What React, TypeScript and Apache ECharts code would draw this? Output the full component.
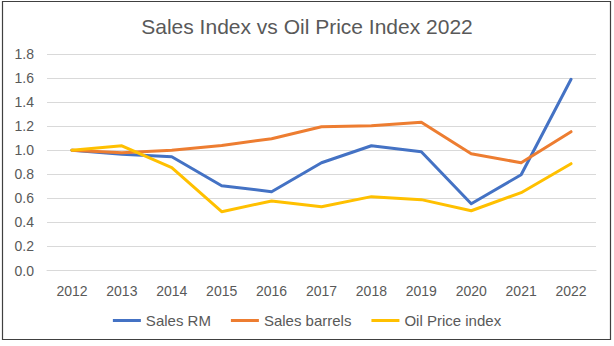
import React, { useEffect, useRef } from "react";
import * as echarts from "echarts";

const years = ["2012", "2013", "2014", "2015", "2016", "2017", "2018", "2019", "2020", "2021", "2022"];
const salesRM = [1.0, 0.966, 0.946, 0.705, 0.655, 0.896, 1.037, 0.988, 0.555, 0.796, 1.59];
const salesBarrels = [1.0, 0.98, 0.999, 1.04, 1.096, 1.195, 1.204, 1.232, 0.971, 0.896, 1.154];
const oilPrice = [1.0, 1.037, 0.855, 0.489, 0.578, 0.53, 0.614, 0.589, 0.497, 0.647, 0.888];

const FONT = "'Liberation Sans', Arial, sans-serif";
const TEXT = "#595959";

export default function App() {
  const ref = useRef<HTMLDivElement>(null);
  useEffect(() => {
    if (!ref.current) return;
    const chart = echarts.init(ref.current, undefined, { renderer: "svg" });
    const mk = (name: string, data: number[], color: string) => ({
      name,
      type: "line",
      data,
      symbol: "none",
      smooth: false,
      color,
      lineStyle: { color, width: 3, cap: "round", join: "round" },
      emphasis: { disabled: true },
    });
    chart.setOption({
      animation: false,
      backgroundColor: "#ffffff",
      textStyle: { fontFamily: FONT },
      title: {
        text: "Sales Index vs Oil Price Index 2022",
        left: "center",
        top: 11,
        textStyle: { fontFamily: FONT, fontSize: 21, fontWeight: "normal", color: TEXT },
      },
      legend: {
        bottom: 13,
        left: "center",
        icon: "rect",
        itemWidth: 28,
        itemHeight: 3,
        itemGap: 20,
        textStyle: { fontFamily: FONT, fontSize: 15, color: TEXT },
        data: ["Sales RM", "Sales barrels", "Oil Price index"],
      },
      grid: { left: 47, right: 18, top: 54, bottom: 75.5, containLabel: false },
      xAxis: {
        type: "category",
        data: years,
        boundaryGap: true,
        axisLine: { show: true, lineStyle: { color: "#D9D9D9", width: 1 } },
        axisTick: { show: false },
        axisLabel: { fontFamily: FONT, fontSize: 14, color: TEXT, margin: 13 },
      },
      yAxis: {
        type: "value",
        min: 0,
        max: 1.8,
        interval: 0.2,
        axisLine: { show: false },
        axisTick: { show: false },
        splitLine: { lineStyle: { color: "#D9D9D9", width: 1 } },
        axisLabel: {
          fontFamily: FONT,
          fontSize: 14,
          color: TEXT,
          margin: 13,
          formatter: (v: number) => v.toFixed(1),
        },
      },
      graphic: [
        {
          type: "rect",
          shape: { x: 2.5, y: 1.5, width: 608, height: 338 },
          style: { fill: "none", stroke: "#404040", lineWidth: 1.2 },
          silent: true,
          z: 100,
        },
      ],
      series: [
        mk("Sales RM", salesRM, "#4472C4"),
        mk("Sales barrels", salesBarrels, "#ED7D31"),
        mk("Oil Price index", oilPrice, "#FFC000"),
      ],
    });
    return () => chart.dispose();
  }, []);
  return (
    <div
      ref={ref}
      style={{ position: "absolute", left: 0, top: 0, width: 614, height: 346 }}
    />
  );
}
